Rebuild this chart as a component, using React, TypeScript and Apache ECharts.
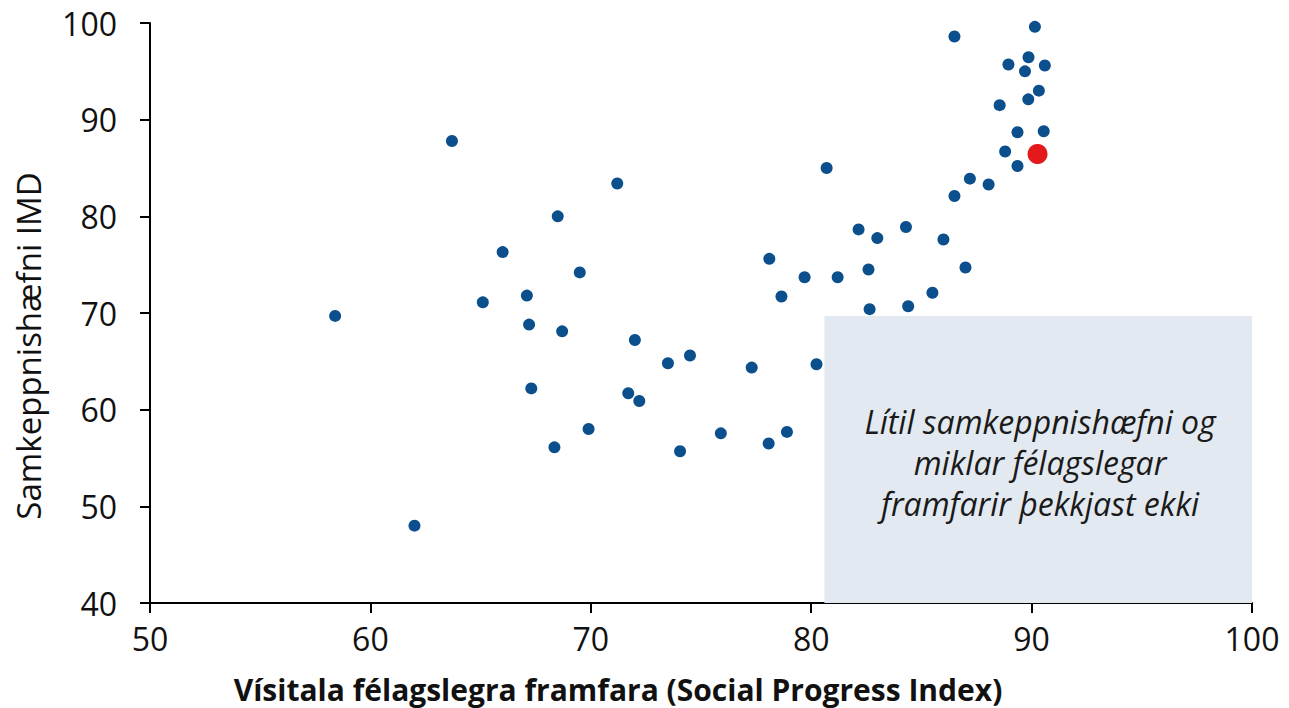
import React, { useEffect, useRef } from "react";
import * as echarts from "echarts";

// Social Progress Index (x) vs IMD competitiveness (y)
const spiValues: number[] = [
  86.5, 90.15, 88.95, 89.86, 89.7, 90.6, 90.33, 89.85, 88.55, 89.36, 90.55, 88.8, 89.36,
  63.7, 80.7, 71.2, 87.2, 88.05, 86.5, 68.5, 82.15, 83.0, 84.3, 86.0, 66.0, 78.1, 69.5,
  79.7, 81.2, 82.6, 87.0, 65.1, 67.1, 78.65, 85.5, 82.65, 84.4, 58.4, 67.2, 68.7, 72.0,
  73.5, 74.5, 77.3, 80.24, 67.3, 71.7, 72.2, 69.9, 68.35, 75.9, 78.07, 78.9, 74.05, 62.0,
];
const imdValues: number[] = [
  98.6, 99.6, 95.7, 96.45, 95.0, 95.6, 93.0, 92.1, 91.5, 88.7, 88.8, 86.7, 85.2,
  87.8, 85.0, 83.4, 83.9, 83.3, 82.1, 80.0, 78.65, 77.75, 78.9, 77.6, 76.3, 75.6, 74.2,
  73.7, 73.7, 74.5, 74.7, 71.1, 71.8, 71.7, 72.1, 70.4, 70.7, 69.7, 68.8, 68.1, 67.2,
  64.8, 65.6, 64.35, 64.7, 62.2, 61.7, 60.9, 58.0, 56.1, 57.55, 56.5, 57.7, 55.7, 48.0,
];
// Highlighted country (red)
const highlightSpi: number[] = [90.27];
const highlightImd: number[] = [86.45];

// Shaded region: [xFrom, yFrom] to [xTo, yTo]
const regionFrom: number[] = [80.6, 40];
const regionTo: number[] = [100, 69.7];

const xTicks = { min: 50, max: 100, interval: 10 };
const yTicks = { min: 40, max: 100, interval: 10 };

const xTitle = "Vísitala félagslegra framfara (Social Progress Index)";
const yTitle = "Samkeppnishæfni IMD";
const regionLabel = ["Lítil samkeppnishæfni og", "miklar félagslegar", "framfarir þekkjast ekki"];

const FONT = "'Open Sans', 'Noto Sans', sans-serif";

export default function App() {
  const ref = useRef<HTMLDivElement>(null);

  useEffect(() => {
    document.body.style.margin = "0";
    if (!ref.current) return;
    const chart = echarts.init(ref.current, undefined, { renderer: "svg" });
    const mainData = spiValues.map((x, i) => [x, imdValues[i]]);
    const redData = highlightSpi.map((x, i) => [x, highlightImd[i]]);

    chart.setOption({
      animation: false,
      backgroundColor: "#ffffff",
      grid: { left: 150, right: 37, top: 23, bottom: 105, containLabel: false },
      xAxis: {
        type: "value",
        min: xTicks.min,
        max: xTicks.max,
        interval: xTicks.interval,
        splitLine: { show: false },
        axisLine: { show: true, onZero: false, lineStyle: { color: "#000", width: 2 } },
        axisTick: { show: true, inside: false, length: 10, lineStyle: { color: "#000", width: 2 } },
        axisLabel: { fontFamily: FONT, fontSize: 32, color: "#111", margin: 19 },
      },
      yAxis: {
        type: "value",
        min: yTicks.min,
        max: yTicks.max,
        interval: yTicks.interval,
        splitLine: { show: false },
        axisLine: { show: true, onZero: false, lineStyle: { color: "#000", width: 2 } },
        axisTick: { show: true, inside: false, length: 10, lineStyle: { color: "#000", width: 2 } },
        axisLabel: { fontFamily: FONT, fontSize: 32, color: "#111", margin: 33 },
      },
      series: [
        {
          type: "scatter",
          data: mainData,
          symbolSize: 12,
          itemStyle: { color: "#0b4f8c", opacity: 1 },
          z: 3,
          markArea: {
            silent: true,
            itemStyle: { color: "#e3e9f0", opacity: 1 },
            data: [[{ coord: regionFrom }, { coord: regionTo }]],
          },
        },
        {
          type: "scatter",
          data: redData,
          symbolSize: 20,
          itemStyle: { color: "#e3191c", opacity: 1 },
          z: 4,
        },
      ],
      graphic: [
        {
          type: "text",
          x: 618,
          y: 689,
          z: 100,
          style: {
            text: xTitle,
            fontFamily: FONT,
            fontSize: 30,
            fontWeight: "bold",
            fill: "#111",
            align: "center",
            verticalAlign: "middle",
          },
        },
        {
          type: "text",
          x: 28,
          y: 346,
          z: 100,
          rotation: Math.PI / 2,
          style: {
            text: yTitle,
            fontFamily: FONT,
            fontSize: 33,
            fill: "#111",
            align: "center",
            verticalAlign: "middle",
          },
        },
        {
          type: "text",
          x: 1040,
          y: 462,
          z: 100,
          style: {
            text: regionLabel.join("\n"),
            fontFamily: FONT,
            fontSize: 32,
            fontStyle: "italic",
            lineHeight: 41,
            fill: "#1a1a1a",
            align: "center",
            verticalAlign: "middle",
          },
        },
      ],
    });
    return () => chart.dispose();
  }, []);

  return <div ref={ref} style={{ width: 1289, height: 708 }} />;
}
